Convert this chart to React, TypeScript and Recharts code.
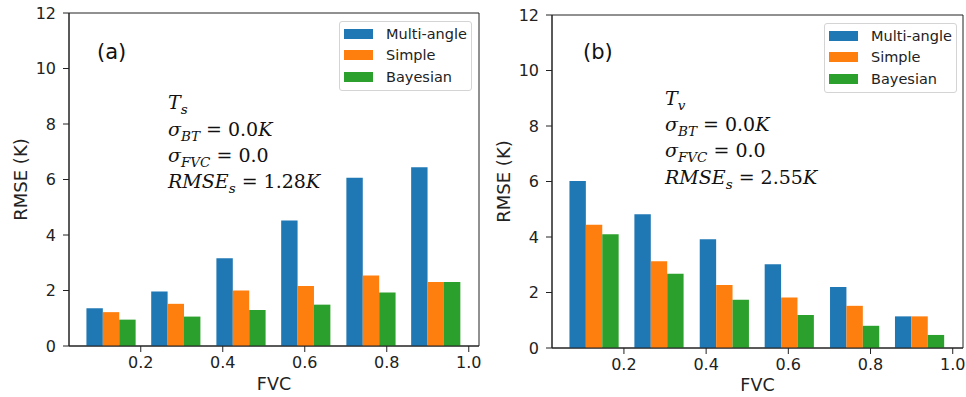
import React from "react";
import { Bar, BarChart, Legend, ReferenceArea, XAxis, YAxis } from "recharts";

// group centres on the FVC axis
const fvc = [0.127, 0.285, 0.444, 0.602, 0.761, 0.919];

// (a) soil temperature Ts
const multiTs = [1.36, 1.96, 3.16, 4.52, 6.06, 6.44];
const simpleTs = [1.22, 1.52, 2.0, 2.16, 2.54, 2.31];
const bayesTs = [0.95, 1.06, 1.3, 1.49, 1.93, 2.31];

// (b) vegetation temperature Tv
const multiTv = [6.02, 4.82, 3.92, 3.02, 2.2, 1.14];
const simpleTv = [4.44, 3.13, 2.27, 1.82, 1.52, 1.14];
const bayesTv = [4.1, 2.68, 1.74, 1.19, 0.8, 0.47];

const seriesNames = ["Multi-angle", "Simple", "Bayesian"];
const xTicks = [0.2, 0.4, 0.6, 0.8, 1.0];
const yTicks = [0, 2, 4, 6, 8, 10, 12];
const xDomain: [number, number] = [0.025, 1.025];

const COLORS = { multi: "#1f77b4", simple: "#ff7f0e", bayes: "#2ca02c" };
const SANS = "DejaVu Sans, sans-serif";
const SERIF = "DejaVu Serif, serif";
const INK = "#222";

const toRows = (a: number[], b: number[], c: number[]) =>
  fvc.map((x, i) => ({ fvc: x, multi: a[i], simple: b[i], bayes: c[i] }));

function LegendBox({ payload }: any) {
  const items = [...(payload || [])].sort(
    (a: any, b: any) => seriesNames.indexOf(a.value) - seriesNames.indexOf(b.value)
  );
  return (
    <div
      style={{
        width: 133,
        boxSizing: "border-box",
        border: "1px solid #d4d4d4",
        borderRadius: 3,
        background: "#fff",
        padding: "1px 0 2px 4px",
        fontFamily: SANS,
        fontSize: 14.5,
        color: INK,
      }}
    >
      {items.map((p: any) => (
        <div key={p.value} style={{ display: "flex", alignItems: "center", height: 21.5 }}>
          <span style={{ width: 29, height: 10, background: p.color, marginRight: 13 }} />
          <span>{p.value}</span>
        </div>
      ))}
    </div>
  );
}

interface PanelProps {
  rows: ReturnType<typeof toRows>;
  left: number;
  width: number;
  yAxisWidth: number;
  top: number;
  right: number;
  xAxisHeight: number;
  legendLeft: number;
  legendTop: number;
  yLabelOffset: number;
  fvcOffset: number;
}

function Panel(p: PanelProps) {
  const tick = { fontSize: 16, fill: INK, fontFamily: SANS };
  return (
    <div style={{ position: "absolute", left: p.left, top: 0 }}>
      <BarChart
        width={p.width}
        height={397}
        data={p.rows}
        margin={{ top: p.top, right: p.right, bottom: 0, left: 0 }}
        barGap={0}
      >
        <XAxis
          dataKey="fvc"
          type="number"
          domain={xDomain}
          allowDataOverflow
          ticks={xTicks}
          tickFormatter={(v: number) => v.toFixed(1)}
          height={p.xAxisHeight}
          tick={tick}
          tickSize={6}
          tickMargin={5}
          stroke={INK}
          label={{ value: "FVC", position: "insideBottom", offset: p.fvcOffset, fontSize: 17.5, fill: INK, fontFamily: SANS }}
        />
        <YAxis
          type="number"
          domain={[0, 12]}
          ticks={yTicks}
          width={p.yAxisWidth}
          tick={tick}
          tickSize={6}
          tickMargin={7}
          stroke={INK}
          label={{
            value: "RMSE (K)",
            angle: -90,
            position: "insideLeft",
            offset: p.yLabelOffset,
            fontSize: 18,
            fill: INK,
            fontFamily: SANS,
            style: { textAnchor: "middle" },
          }}
        />
        <ReferenceArea x1={xDomain[0]} x2={xDomain[1]} y1={0} y2={12} fill="none" stroke={INK} strokeWidth={1} />
        <Bar dataKey="multi" name={seriesNames[0]} fill={COLORS.multi} barSize={16.4} isAnimationActive={false} />
        <Bar dataKey="simple" name={seriesNames[1]} fill={COLORS.simple} barSize={16.4} isAnimationActive={false} />
        <Bar dataKey="bayes" name={seriesNames[2]} fill={COLORS.bayes} barSize={16.4} isAnimationActive={false} />
        <Legend
          verticalAlign="middle"
          content={<LegendBox />}
          wrapperStyle={{ left: p.legendLeft, top: p.legendTop, width: 133 }}
        />
      </BarChart>
    </div>
  );
}

type Seg = { t: string; it?: boolean; sub?: boolean };

function MathLine({ x, y, segs }: { x: number; y: number; segs: Seg[] }) {
  let low = false;
  return (
    <text x={x} y={y} fontFamily={SERIF} fontSize={19} fill="#111">
      {segs.map((s, i) => {
        const dy = s.sub && !low ? 5 : !s.sub && low ? -5 : 0;
        low = !!s.sub;
        return (
          <tspan key={i} dy={dy} fontStyle={s.it ? "italic" : "normal"} fontSize={s.sub ? 13.5 : 19}>
            {s.t}
          </tspan>
        );
      })}
    </text>
  );
}

function Notes({ x, ys, tag, tagX, sym, rmse }: { x: number; ys: number[]; tag: string; tagX: number; sym: string; rmse: string }) {
  return (
    <g>
      <text x={tagX} y={59} fontFamily={SANS} fontSize={21} fill="#111">
        {tag}
      </text>
      <MathLine x={x} y={ys[0]} segs={[{ t: "T", it: true }, { t: sym, it: true, sub: true }]} />
      <MathLine
        x={x}
        y={ys[1]}
        segs={[{ t: "σ", it: true }, { t: "BT", it: true, sub: true }, { t: "  =  0.0" }, { t: "K", it: true }]}
      />
      <MathLine x={x} y={ys[2]} segs={[{ t: "σ", it: true }, { t: "FVC", it: true, sub: true }, { t: "  =  0.0" }]} />
      <MathLine
        x={x}
        y={ys[3]}
        segs={[{ t: "RMSE", it: true }, { t: "s", it: true, sub: true }, { t: "  =  " + rmse }, { t: "K", it: true }]}
      />
    </g>
  );
}

export default function App() {
  return (
    <div style={{ position: "absolute", left: 0, top: 0, width: 966, height: 397, background: "#fff", overflow: "hidden" }}>
      <Panel
        rows={toRows(multiTs, simpleTs, bayesTs)}
        left={0}
        width={490}
        yAxisWidth={69}
        top={13}
        right={11}
        xAxisHeight={51}
        legendLeft={339}
        legendTop={21}
        yLabelOffset={21}
        fvcOffset={7}
      />
      <Panel
        rows={toRows(multiTv, simpleTv, bayesTv)}
        left={480}
        width={486}
        yAxisWidth={72}
        top={15}
        right={3}
        xAxisHeight={49}
        legendLeft={344}
        legendTop={23}
        yLabelOffset={24}
        fvcOffset={6}
      />
      <svg width={966} height={397} style={{ position: "absolute", left: 0, top: 0, pointerEvents: "none" }}>
        <Notes x={168} ys={[109, 136, 162, 188]} tag="(a)" tagX={97} sym="s" rmse="1.28" />
        <Notes x={665} ys={[105, 131, 157, 184]} tag="(b)" tagX={583} sym="v" rmse="2.55" />
      </svg>
    </div>
  );
}
